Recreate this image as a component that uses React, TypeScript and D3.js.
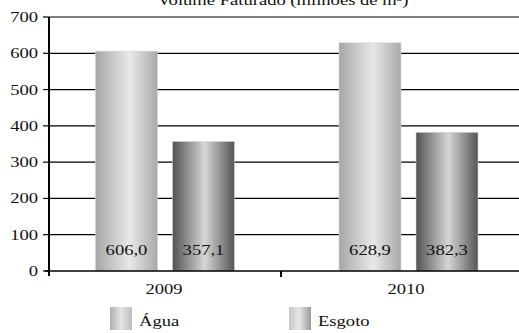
import React from "react";
import * as d3 from "d3";

const years = ["2009", "2010"];
const series = ["Água", "Esgoto"];
const agua = [606.0, 628.9];
const esgoto = [357.1, 382.3];
const valueLabels = [["606,0", "357,1"], ["628,9", "382,3"]];
const yTicks = [0, 100, 200, 300, 400, 500, 600, 700];
const title = "Volume Faturado (milhões de m³)";

const W = 519, H = 333;
const SX = 1.24;
const FONT = "'Liberation Serif', 'Times New Roman', serif";

export default function App() {
  const y = d3.scaleLinear().domain([0, 700]).range([271, 17]);
  const axisX = d3.scaleBand<string>().domain(years).range([49, 513]);
  const groupCenter = d3.scalePoint<string>().domain(years).range([165, 408.5]);
  const inner = d3.scaleBand<string>().domain(series).range([-69.5, 69.5]).paddingInner(0.195).paddingOuter(0);
  const values = [agua, esgoto];

  const T = (props: any) => {
    const { x, y: yy, anchor, children, size = 15 } = props;
    return (
      <text
        transform={`translate(${x},${yy}) scale(${SX},1)`}
        textAnchor={anchor || "middle"}
        fontFamily={FONT}
        fontSize={size}
        fill="#111"
      >
        {children}
      </text>
    );
  };

  return (
    <svg width={W} height={H} style={{ position: "fixed", left: 0, top: 0, background: "#fff" }}>
      <defs>
        <linearGradient id="gAgua" x1="0" x2="1" y1="0" y2="0">
          <stop offset="0" stopColor="#a6a6a6" />
          <stop offset="0.55" stopColor="#e8e8e8" />
          <stop offset="1" stopColor="#a9a9a9" />
        </linearGradient>
        <linearGradient id="gEsgoto" x1="0" x2="1" y1="0" y2="0">
          <stop offset="0" stopColor="#525252" />
          <stop offset="0.52" stopColor="#d6d6d6" />
          <stop offset="1" stopColor="#555555" />
        </linearGradient>
        <linearGradient id="lAgua" x1="0" x2="1" y1="0" y2="0">
          <stop offset="0" stopColor="#b0b0b0" />
          <stop offset="0.5" stopColor="#e4e4e4" />
          <stop offset="1" stopColor="#bdbdbd" />
        </linearGradient>
        <linearGradient id="lEsgoto" x1="0" x2="1" y1="0" y2="0">
          <stop offset="0" stopColor="#c4c4c4" />
          <stop offset="0.45" stopColor="#e8e8e8" />
          <stop offset="1" stopColor="#9a9a9a" />
        </linearGradient>
      </defs>

      <T x={283} y={5}>{title}</T>

      {/* gridlines */}
      {yTicks.map((t) => (
        <g key={t}>
          {t > 0 && <line x1={49} x2={W} y1={y(t)} y2={y(t)} stroke="#000" strokeWidth={1.2} />}
          <line x1={43} x2={49} y1={y(t)} y2={y(t)} stroke="#000" strokeWidth={1.2} />
          <T x={38} y={y(t) + 5} anchor="end">{t}</T>
        </g>
      ))}

      {/* bars */}
      {years.map((yr, i) =>
        series.map((s, j) => {
          const v = values[j][i];
          const bx = (groupCenter(yr) as number) + (inner(s) as number);
          const bw = inner.bandwidth();
          return (
            <g key={yr + s}>
              <rect
                x={bx}
                y={y(v)}
                width={bw}
                height={y(0) - y(v)}
                fill={j === 0 ? "url(#gAgua)" : "url(#gEsgoto)"}
                stroke="#d8d8d8"
                strokeWidth={0.6}
              />
              <T x={bx + bw / 2} y={255}>{valueLabels[i][j]}</T>
            </g>
          );
        })
      )}

      {/* axes */}
      <line x1={49} x2={49} y1={17} y2={276} stroke="#000" strokeWidth={2} />
      <line x1={45} x2={W} y1={y(0)} y2={y(0)} stroke="#000" strokeWidth={1.3} />
      {years.slice(1).map((yr) => (
        <line key={yr} x1={axisX(yr) as number} x2={axisX(yr) as number} y1={y(0)} y2={277} stroke="#000" strokeWidth={2} />
      ))}
      {years.map((yr, i) => (
        <T key={yr} x={(groupCenter(yr) as number) - 1 - i * 1.5} y={294}>{yr}</T>
      ))}

      {/* legend */}
      {series.map((s, j) => {
        const lx = j === 0 ? 110 : 289;
        return (
          <g key={s}>
            <rect x={lx} y={307} width={22} height={23} fill={j === 0 ? "url(#lAgua)" : "url(#lEsgoto)"} />
            <T x={lx + 29} y={326} anchor="start">{s}</T>
          </g>
        );
      })}
    </svg>
  );
}
